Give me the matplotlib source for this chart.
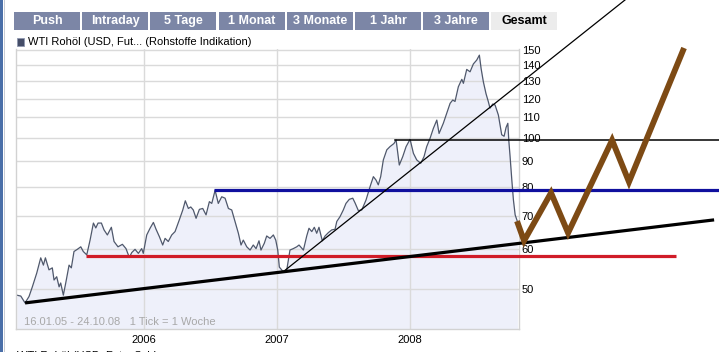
import matplotlib
matplotlib.use("Agg")
import matplotlib.pyplot as plt
from matplotlib.patches import Rectangle
from matplotlib.ticker import FixedLocator, NullLocator, NullFormatter, FuncFormatter

plt.rcParams['font.family'] = ['Liberation Sans', 'DejaVu Sans']

# ---- data (decimal year, USD) ----
years = [2005.043, 2005.073, 2005.105, 2005.135, 2005.160, 2005.193, 2005.223, 2005.243, 2005.258, 2005.285,
         2005.310, 2005.323, 2005.343, 2005.361, 2005.373, 2005.393, 2005.411, 2005.436, 2005.453, 2005.473,
         2005.498, 2005.524, 2005.543, 2005.569, 2005.594, 2005.619, 2005.637, 2005.654, 2005.679, 2005.699,
         2005.724, 2005.754, 2005.774, 2005.804, 2005.837, 2005.864, 2005.889, 2005.907, 2005.932, 2005.957,
         2005.982, 2005.994, 2006.020, 2006.045, 2006.070, 2006.090, 2006.115, 2006.140, 2006.158, 2006.182,
         2006.208, 2006.233, 2006.265, 2006.291, 2006.310, 2006.333, 2006.351, 2006.370, 2006.391, 2006.416,
         2006.441, 2006.466, 2006.491, 2006.509, 2006.534, 2006.558, 2006.584, 2006.609, 2006.634, 2006.659,
         2006.684, 2006.709, 2006.729, 2006.746, 2006.772, 2006.797, 2006.821, 2006.842, 2006.864, 2006.879,
         2006.904, 2006.922, 2006.947, 2006.972, 2006.990, 2007.005, 2007.017, 2007.047, 2007.073, 2007.097,
         2007.122, 2007.148, 2007.165, 2007.198, 2007.223, 2007.240, 2007.261, 2007.280, 2007.298, 2007.315,
         2007.340, 2007.361, 2007.386, 2007.411, 2007.436, 2007.449, 2007.473, 2007.498, 2007.518, 2007.543,
         2007.569, 2007.586, 2007.611, 2007.637, 2007.669, 2007.699, 2007.724, 2007.744, 2007.761, 2007.779,
         2007.799, 2007.825, 2007.849, 2007.879, 2007.895, 2007.919, 2007.945, 2007.970, 2008.000, 2008.025,
         2008.050, 2008.080, 2008.105, 2008.125, 2008.150, 2008.175, 2008.201, 2008.218, 2008.250, 2008.276,
         2008.301, 2008.321, 2008.338, 2008.363, 2008.389, 2008.401, 2008.426, 2008.451, 2008.476, 2008.501,
         2008.521, 2008.534, 2008.551, 2008.571, 2008.588, 2008.601, 2008.621, 2008.639, 2008.664, 2008.689,
         2008.707, 2008.722, 2008.735, 2008.742, 2008.752, 2008.765, 2008.777, 2008.790, 2008.807]
prices = [48.6, 48.4, 46.9, 48.3, 50.5, 53.8, 57.7, 55.8, 57.7, 54.6,
          55.1, 52.1, 52.9, 50.5, 51.4, 48.6, 51.4, 55.8, 55.1, 59.4,
          60.0, 60.7, 59.4, 58.5, 62.6, 67.7, 66.2, 67.7, 67.7, 65.6,
          64.1, 66.4, 62.2, 60.7, 61.4, 60.2, 57.8, 59.1, 60.0, 58.9,
          60.2, 58.9, 64.1, 66.1, 67.9, 65.8, 63.6, 61.2, 63.1, 62.2,
          64.1, 65.1, 68.7, 71.9, 75.0, 72.4, 72.9, 71.9, 69.2, 72.1,
          72.4, 70.3, 74.7, 74.1, 78.7, 74.1, 76.4, 75.9, 72.4, 71.9,
          68.2, 64.6, 61.2, 62.6, 60.7, 59.8, 61.2, 60.2, 62.4, 59.8,
          61.7, 63.8, 63.1, 64.1, 62.6, 59.8, 55.3, 54.1, 54.6, 59.8,
          60.2, 60.7, 61.2, 59.8, 63.8, 66.1, 65.1, 66.4, 64.6, 66.4,
          62.4, 63.8, 64.8, 65.6, 65.8, 68.2, 69.7, 71.9, 74.1, 75.5,
          75.9, 74.3, 71.7, 71.9, 75.3, 80.0, 83.8, 82.5, 80.7, 83.8,
          90.5, 94.8, 96.2, 97.6, 99.2, 88.4, 91.9, 96.2, 99.5, 93.3,
          90.5, 89.1, 91.9, 96.2, 99.9, 104.6, 108.7, 102.2, 107.1, 112.2,
          117.4, 119.2, 118.4, 126.7, 131.1, 128.7, 137.2, 135.7, 140.7, 143.2,
          146.5, 137.8, 129.6, 122.7, 118.4, 114.8, 117.0, 116.5, 111.2, 101.6,
          100.9, 105.1, 107.1, 99.2, 91.9, 82.5, 75.3, 70.3, 68.2]

y_ticks = [50, 60, 70, 80, 90, 100, 110, 120, 130, 140, 150]
x_ticks = [2006, 2007, 2008]
x_labels = ["2006", "2007", "2008"]

tabs = ["Push", "Intraday", "5 Tage", "1 Monat", "3 Monate", "1 Jahr", "3 Jahre", "Gesamt"]

# hand-drawn annotations (decimal year, USD)
support_x = [2005.105, 2010.286]
support_y = [46.9, 68.7]
trend_x = [2007.045, 2009.616]
trend_y = [54.1, 188.8]
red_x = [2005.564, 2010.000]
red_y = [58.3, 58.3]
blue_x = [2006.526, 2010.323]
blue_y = [78.9, 78.9]
res_x = [2007.887, 2010.323]
res_y = [99.2, 99.2]
proj_x = [2008.804, 2008.857, 2009.060, 2009.188, 2009.519, 2009.646, 2010.060]
proj_y = [68.3, 62.4, 77.8, 64.7, 99.1, 81.8, 151.4]

W, H = 719, 352
fig = plt.figure(figsize=(W / 100, H / 100), dpi=100)
fig.patch.set_facecolor('white')

ax = fig.add_axes([16 / W, 23 / H, 503 / W, 280 / H])
ax.set_yscale('log')
ymin, ymax = 41.6, 150.7
ax.set_ylim(ymin, ymax)
ax.set_xlim(2005.037, 2008.819)

ax.fill_between(years, prices, ymin, color='#eef0fa', lw=0, zorder=0.3)
ax.plot(years, prices, color='#4f586c', lw=0.9, zorder=2)

ax.yaxis.set_major_locator(FixedLocator(y_ticks))
ax.yaxis.set_minor_locator(NullLocator())
ax.yaxis.set_minor_formatter(NullFormatter())
ax.yaxis.set_major_formatter(FuncFormatter(lambda v, p: f"{v:.0f}"))
ax.yaxis.tick_right()
ax.set_xticks(x_ticks)
ax.set_xticklabels(x_labels)
ax.tick_params(axis='both', length=0, labelsize=8, colors='black')
ax.tick_params(axis='y', pad=2)
ax.tick_params(axis='x', pad=4)
ax.set_axisbelow(True)
ax.grid(True, color='#dadada', lw=1)
for s in ax.spines.values():
    s.set_color('#d2d2d2')
    s.set_linewidth(1)
ax.spines['top'].set_visible(False)

ax.text(8 / 503, 7 / 280, "16.01.05 - 24.10.08   1 Tick = 1 Woche", transform=ax.transAxes,
        fontsize=8, color='#a8a8a8', va='center', ha='left')

# annotations
ax.plot(support_x, support_y, color='black', lw=2.3, clip_on=False, zorder=4, solid_capstyle='butt')
ax.plot(trend_x, trend_y, color='black', lw=0.9, clip_on=False, zorder=4)
ax.plot(red_x, red_y, color='#d01c28', lw=2.3, clip_on=False, zorder=3, solid_capstyle='butt')
ax.plot(blue_x, blue_y, color='#10109e', lw=2.3, clip_on=False, zorder=3, solid_capstyle='butt')
ax.plot(res_x, res_y, color='black', lw=1.1, clip_on=False, zorder=3)
ax.plot(proj_x, proj_y, color='#7d4a14', lw=4.2, clip_on=False, zorder=5,
        solid_joinstyle='miter', solid_capstyle='butt')

# tab bar
x0, pitch, tw = 14, 68.2, 66
for i, t in enumerate(tabs):
    xl = x0 + i * pitch
    last = (t == "Gesamt")
    fig.patches.append(Rectangle((xl / W, (H - 30) / H), tw / W, 18 / H, transform=fig.transFigure,
                                 facecolor='#ececec' if last else '#7c86a6', edgecolor='none'))
    fig.text((xl + tw / 2) / W, (H - 21) / H, t, ha='center', va='center', fontsize=9,
             fontweight='bold', color='black' if last else 'white')

# legend
fig.patches.append(Rectangle((17 / W, (H - 46) / H), 7 / W, 8 / H, transform=fig.transFigure,
                             facecolor='#454d68', edgecolor='#9098b0', lw=0.6))
fig.text(28 / W, (H - 42) / H, "WTI Rohöl (USD, Fut... (Rohstoffe Indikation)", ha='left',
         va='center', fontsize=8, color='black')
fig.text(17 / W, (H - 356) / H, "WTI Rohöl (USD, Fut... Schluss", ha='left', va='center',
         fontsize=8, color='black')

# window frame on the left
fig.patches.append(Rectangle((0, 0), 2.5 / W, 1, transform=fig.transFigure,
                             facecolor='#4a6fa8', edgecolor='none'))
fig.patches.append(Rectangle((4 / W, 0), 1 / W, 1, transform=fig.transFigure,
                             facecolor='#c8ccd4', edgecolor='none'))

fig.savefig("out.png", dpi=100)
